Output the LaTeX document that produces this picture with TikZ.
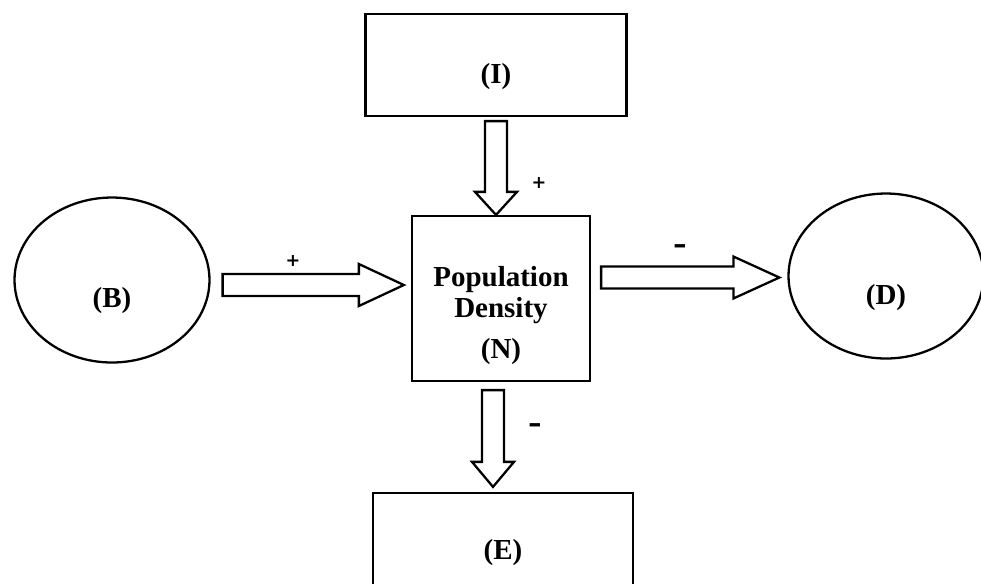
\documentclass[tikz,border=0pt]{standalone}
\usepackage{fontspec}
\setmainfont{Liberation Serif}
\newfontfamily\signfont{DejaVu Sans}
\usetikzlibrary{calc, shapes.geometric}

\newcommand{\fatarrow}[3]{%
  \coordinate (fa-h) at ($(#2)!#3!(#1)$);
  \draw ($(#1)!0.22cm!90:(#2)$) -- ($(fa-h)!0.22cm!90:(#2)$)
    -- ($(fa-h)!0.42cm!90:(#2)$) -- (#2)
    -- ($(fa-h)!0.42cm!-90:(#2)$) -- ($(fa-h)!0.22cm!-90:(#2)$)
    -- ($(#1)!0.22cm!-90:(#2)$) -- cycle;}

\begin{document}
\begin{tikzpicture}[x=0.02cm, y=-0.02cm, line width=1.3pt, line join=miter,
    box/.style={draw, rectangle, font=\fontsize{16.5}{17.6}\selectfont\bfseries},
    oval/.style={draw, ellipse, minimum width=3.9cm, minimum height=3.3cm},
    word/.style={font=\fontsize{16.5}{17.6}\selectfont\bfseries},
    sign/.style={font=\signfont\fontsize{10}{12}\selectfont\bfseries},
    minus/.style={font=\signfont\fontsize{15}{16}\selectfont\bfseries}]
            \useasboundingbox (0,0) rectangle (981,583);
            \clip (0,0) rectangle (981,583);
            \draw (496,65) node[box, minimum width=5.22cm, minimum height=2.04cm, text height=0.85cm] (I) {(I)};
            \draw (501,298.5) node[box, minimum width=3.56cm, minimum height=3.3cm,
                label={[word, align=center, yshift=-0.34cm]center:Population\\Density\\[6pt](N)}] (N) {};
            \draw (503,553) node[box, minimum width=5.2cm, minimum height=2.4cm] (E) {(E)};
            \draw (112,280) node[oval, label={[word, yshift=-0.42cm]center:(B)}] (B) {};
            \draw (886,276) node[oval, label={[word, yshift=-0.44cm]center:(D)}] (D) {};
            \coordinate (i1) at ($(I.south)+(0,4)$);
            \coordinate (i2) at (i1 |- N.north);
            \coordinate (b1) at ($(B.east)+(12,5)$);
            \coordinate (b2) at ($(N.west |- b1)+(-7,0)$);
            \coordinate (d1) at ($(N.east)+(10,-21)$);
            \coordinate (d2) at ($(D.west |- d1)+(-8,0)$);
            \coordinate (e1) at ($(N.south)+(-8,8)$);
            \coordinate (e2) at ($(e1 |- E.north)+(0,-5)$);
            \fatarrow{i1}{i2}{0.46cm}
            \fatarrow{b1}{b2}{0.9cm}
            \fatarrow{d1}{d2}{0.92cm}
            \fatarrow{e1}{e2}{0.5cm}
            \draw (539,183) node[sign] (pi) {+};
            \draw (293,261) node[sign] (pb) {+};
            \draw (680,249) node[minus] (md) {–};
            \draw (535,428) node[minus] (me) {–};
        \end{tikzpicture}
\end{document}
